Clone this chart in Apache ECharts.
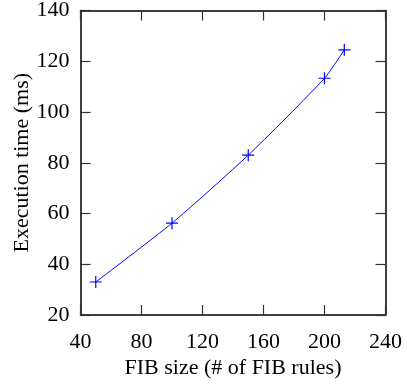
<!DOCTYPE html>
<html>
<head>
<meta charset="utf-8">
<script src="https://cdn.jsdelivr.net/npm/echarts@6/dist/echarts.min.js"></script>
<style>
  html, body { margin: 0; padding: 0; background: #fff; }
  #main { width: 407px; height: 386px; }
</style>
</head>
<body>
<div id="main"></div>
<script>
// FIB size vs execution time
const fibSize = [50, 100, 150, 200, 213];
const execTime = [33, 56.2, 83, 113.3, 124.5];
const xTicks = [40, 80, 120, 160, 200, 240];
const yTicks = [20, 40, 60, 80, 100, 120, 140];

const font = 'Liberation Serif';
const chart = echarts.init(document.getElementById('main'));

const tick = { show: true, inside: true, length: 10, lineStyle: { color: '#333', width: 1.2 } };
const line = { show: true, onZero: false, lineStyle: { color: '#000', width: 1.5 } };

chart.setOption({
  animation: false,
  grid: { left: 80.5, right: 21.5, top: 10.5, bottom: 71, outerBoundsMode: 'none' },
  xAxis: [{
    type: 'value', min: xTicks[0], max: xTicks[xTicks.length - 1], interval: 40,
    name: 'FIB size (# of FIB rules)', nameLocation: 'middle', nameGap: 42, nameMoveOverlap: false,
    nameTextStyle: { fontFamily: font, fontSize: 22, color: '#000' },
    axisLine: line, axisTick: tick, splitLine: { show: false },
    axisLabel: { fontFamily: font, fontSize: 22, color: '#000', margin: 16 }
  }, {
    type: 'value', position: 'top', min: xTicks[0], max: xTicks[xTicks.length - 1], interval: 40,
    axisLine: line, axisTick: tick, splitLine: { show: false }, axisLabel: { show: false }
  }],
  yAxis: [{
    type: 'value', min: yTicks[0], max: yTicks[yTicks.length - 1], interval: 20,
    name: 'Execution time (ms)', nameLocation: 'middle', nameGap: 47, nameMoveOverlap: false,
    nameTextStyle: { fontFamily: font, fontSize: 22, color: '#000' },
    axisLine: line, axisTick: tick, splitLine: { show: false },
    axisLabel: { fontFamily: font, fontSize: 22, color: '#000', margin: 11 }
  }, {
    type: 'value', position: 'right', min: yTicks[0], max: yTicks[yTicks.length - 1], interval: 20,
    axisLine: line, axisTick: tick, splitLine: { show: false }, axisLabel: { show: false }
  }],
  series: [{
    type: 'line',
    data: fibSize.map((x, i) => [x, execTime[i]]),
    smooth: 0.2,
    lineStyle: { color: '#0000ff', width: 1 },
    symbol: 'path://M0,5L10,5M5,0L5,10',
    symbolSize: 12,
    itemStyle: { color: '#0000ff', borderColor: '#0000ff', borderWidth: 1.2 }
  }]
});
</script>
</body>
</html>
